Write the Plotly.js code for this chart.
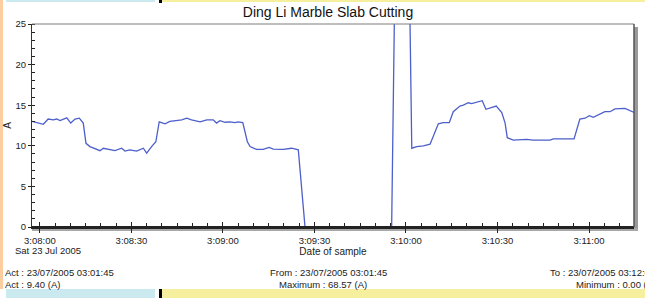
<!DOCTYPE html>
<html>
<head>
<meta charset="utf-8">
<script src="https://cdn.plot.ly/plotly-3.0.1.min.js"></script>
<style>
html,body{margin:0;padding:0;background:#fff;}
#wrap{position:relative;width:645px;height:298px;overflow:hidden;}
.s{position:absolute;}
#chart{position:absolute;left:0;top:0;width:645px;height:298px;}
</style>
</head>
<body>
<div id="wrap">
  <div class="s" style="left:0;top:0;width:3px;height:289px;background:#fbcd9f"></div>
  <div class="s" style="left:6px;top:0;width:149px;height:2px;background:#cbeaf0"></div>
  <div class="s" style="left:159px;top:0;width:3px;height:3px;background:#000"></div>
  <div class="s" style="left:162px;top:0;width:483px;height:2px;background:#f6ef9e"></div>
  <div class="s" style="left:6px;top:289px;width:149px;height:9px;background:#cbeaf0"></div>
  <div class="s" style="left:159px;top:289px;width:3px;height:9px;background:#000"></div>
  <div class="s" style="left:162px;top:289px;width:483px;height:9px;background:#f6ef9e"></div>
  <div id="chart"></div>
</div>
<script>
// Sample times and current (A)
const times = [
 "2005-07-23 03:07:57.4","2005-07-23 03:08:01.1","2005-07-23 03:08:02.7","2005-07-23 03:08:04.4",
 "2005-07-23 03:08:05.5","2005-07-23 03:08:06.6","2005-07-23 03:08:08.8","2005-07-23 03:08:10.1",
 "2005-07-23 03:08:11.5","2005-07-23 03:08:12.9","2005-07-23 03:08:14.2","2005-07-23 03:08:15.1",
 "2005-07-23 03:08:16.4","2005-07-23 03:08:19.7","2005-07-23 03:08:20.8","2005-07-23 03:08:23.0",
 "2005-07-23 03:08:24.6","2005-07-23 03:08:26.8","2005-07-23 03:08:27.9","2005-07-23 03:08:29.5",
 "2005-07-23 03:08:31.7","2005-07-23 03:08:33.9","2005-07-23 03:08:35.0","2005-07-23 03:08:36.6",
 "2005-07-23 03:08:38.0","2005-07-23 03:08:39.1","2005-07-23 03:08:41.0","2005-07-23 03:08:42.6",
 "2005-07-23 03:08:44.8","2005-07-23 03:08:46.5","2005-07-23 03:08:48.1","2005-07-23 03:08:49.7",
 "2005-07-23 03:08:52.5","2005-07-23 03:08:54.7","2005-07-23 03:08:56.8","2005-07-23 03:08:57.9",
 "2005-07-23 03:08:59.0","2005-07-23 03:09:00.7","2005-07-23 03:09:02.3","2005-07-23 03:09:03.9",
 "2005-07-23 03:09:05.0","2005-07-23 03:09:06.5","2005-07-23 03:09:08.0","2005-07-23 03:09:08.9",
 "2005-07-23 03:09:11.0","2005-07-23 03:09:13.2","2005-07-23 03:09:15.1","2005-07-23 03:09:16.5",
 "2005-07-23 03:09:19.8","2005-07-23 03:09:22.5","2005-07-23 03:09:24.7","2005-07-23 03:09:26.9",
 "2005-07-23 03:09:55.3","2005-07-23 03:09:57.7","2005-07-23 03:09:59.7","2005-07-23 03:10:01.9",
 "2005-07-23 03:10:03.5","2005-07-23 03:10:05.7","2005-07-23 03:10:07.9","2005-07-23 03:10:09.0",
 "2005-07-23 03:10:10.6","2005-07-23 03:10:12.2","2005-07-23 03:10:14.2","2005-07-23 03:10:15.5",
 "2005-07-23 03:10:17.7","2005-07-23 03:10:18.8","2005-07-23 03:10:20.4","2005-07-23 03:10:21.5",
 "2005-07-23 03:10:23.2","2005-07-23 03:10:25.0","2005-07-23 03:10:26.2","2005-07-23 03:10:28.1",
 "2005-07-23 03:10:29.6","2005-07-23 03:10:31.4","2005-07-23 03:10:32.5","2005-07-23 03:10:33.2",
 "2005-07-23 03:10:35.2","2005-07-23 03:10:39.6","2005-07-23 03:10:41.7","2005-07-23 03:10:47.2",
 "2005-07-23 03:10:48.3","2005-07-23 03:10:55.1","2005-07-23 03:10:57.0","2005-07-23 03:10:58.7",
 "2005-07-23 03:11:00.1","2005-07-23 03:11:01.4","2005-07-23 03:11:03.6","2005-07-23 03:11:05.2",
 "2005-07-23 03:11:06.9","2005-07-23 03:11:08.5","2005-07-23 03:11:11.8","2005-07-23 03:11:14.8"
];
const amps = [
 13.0,12.65,13.3,13.2,
 13.3,13.1,13.45,12.8,
 13.3,13.4,12.8,10.3,
 9.9,9.4,9.7,9.55,
 9.4,9.7,9.35,9.5,
 9.35,9.7,9.1,9.9,
 10.5,12.95,12.7,13.0,
 13.1,13.2,13.4,13.2,
 12.95,13.2,13.2,12.8,
 13.1,12.9,12.95,12.85,
 12.95,12.85,10.5,9.9,
 9.55,9.55,9.8,9.6,
 9.55,9.7,9.5,0,
 0,68.57,68.57,9.7,
 9.9,10.0,10.2,11.3,
 12.7,12.85,12.85,14.2,
 14.9,15.0,15.3,15.2,
 15.4,15.55,14.5,14.75,
 14.9,14.1,12.8,11.0,
 10.7,10.8,10.7,10.7,
 10.85,10.85,13.3,13.4,
 13.7,13.5,13.9,14.2,
 14.2,14.55,14.6,14.1
];
const xTickVals = ["2005-07-23 03:08:00","2005-07-23 03:08:30","2005-07-23 03:09:00","2005-07-23 03:09:30",
 "2005-07-23 03:10:00","2005-07-23 03:10:30","2005-07-23 03:11:00"];
const xTickText = ["3:08:00","3:08:30","3:09:00","3:09:30","3:10:00","3:10:30","3:11:00"];
const yTickVals = [0,5,10,15,20,25];
const chartTitle = "Ding Li Marble Slab Cutting";
const xTitle = "Date of sample";
const yTitle = "A";
const dateLabel = "Sat 23 Jul 2005";
const infoLeft = ["Act : 23/07/2005 03:01:45","Act : 9.40 (A)"];
const infoMid = ["From : 23/07/2005 03:01:45","Maximum : 68.57 (A)"];
const infoRight = ["To : 23/07/2005 03:12:00","Minimum : 0.00 (A)"];

const FONT = "Liberation Sans, Arial, sans-serif";
const xRange = ["2005-07-23 03:07:57.4","2005-07-23 03:11:14.75"];
const yRange = [0,25];

const traces = [
 {x: times, y: amps, type: "scatter", mode: "lines",
  line: {color: "#4d5fca", width: 1.3}, hoverinfo: "x+y", showlegend: false},
 {x: [], y: [], xaxis: "x2", yaxis: "y2", type: "scatter", mode: "lines", showlegend: false, hoverinfo: "skip"}
];

const layout = {
 width: 645, height: 298,
 margin: {l: 32, r: 11, t: 24, b: 71},
 paper_bgcolor: "rgba(0,0,0,0)",
 plot_bgcolor: "#fff",
 font: {family: FONT, size: 9.5, color: "#222"},
 title: {text: chartTitle, font: {family: FONT, size: 14, color: "#111"},
         x: 0.5085, xanchor: "center", xref: "container", y: 0.958, yref: "container", yanchor: "middle"},
 xaxis: {type: "date", range: xRange, tickvals: xTickVals, ticktext: xTickText, layer: "above traces",
   showgrid: false, zeroline: false, showline: true, linecolor: "#222", linewidth: 2,
   ticks: "outside", ticklen: 4, tickwidth: 1, tickcolor: "#222",
   minor: {dtick: 5000, tick0: "2005-07-23 03:08:00", ticks: "inside", ticklen: 4, tickcolor: "#222", tickwidth: 1, showgrid: false},
   tickfont: {family: FONT, size: 9.5, color: "#222"},
   title: {text: xTitle, font: {family: FONT, size: 10, color: "#222"}, standoff: 3},
   fixedrange: true},
 xaxis2: {type: "date", range: xRange, overlaying: "x", tickvals: xTickVals, showticklabels: false, layer: "above traces",
   ticks: "inside", ticklen: 5, tickwidth: 1, tickcolor: "#222", showgrid: false, zeroline: false, showline: false},
 yaxis: {range: yRange, tickvals: yTickVals, layer: "above traces",
   showgrid: false, zeroline: false, showline: true, linecolor: "#333", linewidth: 1,
   ticks: "outside", ticklen: 3, tickwidth: 1, tickcolor: "#222",
   minor: {dtick: 1, tick0: 0, ticks: "inside", ticklen: 3, tickcolor: "#222", tickwidth: 1, showgrid: false},
   tickfont: {family: FONT, size: 9.5, color: "#222"},
   title: {text: yTitle, font: {family: FONT, size: 10, color: "#222"}, standoff: 2},
   fixedrange: true},
 yaxis2: {range: yRange, overlaying: "y", tickvals: yTickVals, showticklabels: false, layer: "above traces",
   ticks: "inside", ticklen: 3, tickwidth: 1, tickcolor: "#222", showgrid: false, zeroline: false, showline: false},
 shapes: [
  {type: "line", xref: "paper", yref: "paper", x0: 0, x1: 1, y0: 1, y1: 1, line: {color: "#7d7d7d", width: 1}},
  {type: "rect", xref: "paper", yref: "paper", x0: 1, x1: 1 + 4/602, y0: -4/203, y1: 1 - 3/203,
   fillcolor: "#9a9a9a", line: {width: 0}, layer: "below"},
  {type: "rect", xref: "paper", yref: "paper", x0: 0, x1: 1 + 4/602, y0: -4/203, y1: -1/203,
   fillcolor: "#a8a8a8", line: {width: 0}, layer: "below"},
  {type: "line", xref: "paper", yref: "paper", x0: 0, x1: 1, y0: 0, y1: 0, line: {color: "#222", width: 2}, layer: "above"},
  {type: "line", xref: "paper", yref: "paper", x0: 1, x1: 1, y0: 0, y1: 1, line: {color: "#555", width: 1.5}}
 ],
 annotations: [
  {text: dateLabel, xref: "paper", yref: "paper", x: -0.032, y: -0.118, xanchor: "left", yanchor: "middle", showarrow: false, font: {family: FONT, size: 9.5, color: "#222"}},
  {text: infoLeft[0], xref: "paper", yref: "paper", x: -0.0482, y: -0.2266, xanchor: "left", yanchor: "middle", showarrow: false, font: {family: FONT, size: 9.5, color: "#222"}},
  {text: infoLeft[1], xref: "paper", yref: "paper", x: -0.0482, y: -0.2857, xanchor: "left", yanchor: "middle", showarrow: false, font: {family: FONT, size: 9.5, color: "#222"}},
  {text: infoMid[0], xref: "paper", yref: "paper", x: 0.4917, y: -0.2266, xanchor: "center", yanchor: "middle", showarrow: false, font: {family: FONT, size: 9.5, color: "#222"}},
  {text: infoMid[1], xref: "paper", yref: "paper", x: 0.4834, y: -0.2857, xanchor: "center", yanchor: "middle", showarrow: false, font: {family: FONT, size: 9.5, color: "#222"}},
  {text: infoRight[0], xref: "paper", yref: "paper", x: 0.857, y: -0.2266, xanchor: "left", yanchor: "middle", showarrow: false, font: {family: FONT, size: 9.5, color: "#222"}},
  {text: infoRight[1], xref: "paper", yref: "paper", x: 0.9003, y: -0.2857, xanchor: "left", yanchor: "middle", showarrow: false, font: {family: FONT, size: 9.5, color: "#222"}}
 ]
};
Plotly.newPlot("chart", traces, layout, {displayModeBar: false, responsive: false, staticPlot: true});
</script>
</body>
</html>
